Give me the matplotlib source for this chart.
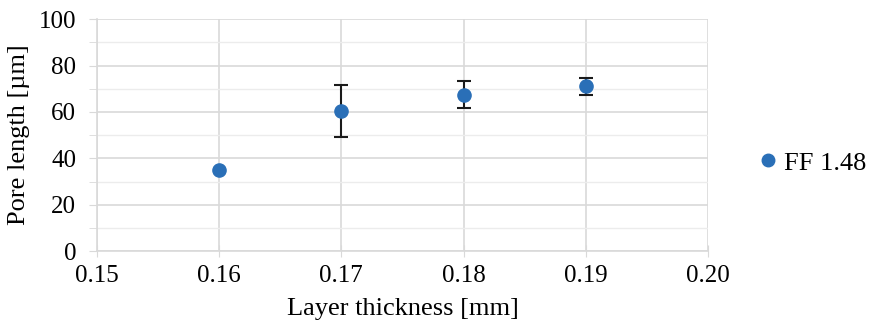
import matplotlib.pyplot as plt
from matplotlib.lines import Line2D
from matplotlib.ticker import MultipleLocator

# --- Data ---
layer_thickness = [0.16, 0.17, 0.18, 0.19]
pore_length = [35.0, 60.5, 67.5, 71.0]
err_low = [0.0, 11.3, 6.0, 3.8]
err_high = [0.0, 11.0, 5.7, 3.7]
series_label = "FF 1.48"

x_ticks = [0.15, 0.16, 0.17, 0.18, 0.19, 0.20]
y_ticks = [0, 20, 40, 60, 80, 100]

plt.rcParams["font.family"] = ["Liberation Serif", "DejaVu Serif"]

fig = plt.figure(figsize=(8.73, 3.24), dpi=100)
ax = fig.add_axes([0.111, 0.225, 0.700, 0.716])

grid_col = "#d9d9d9"
point_col = "#2a6fb7"

# error bars only where there is a spread
has_err = [lo > 0 or hi > 0 for lo, hi in zip(err_low, err_high)]
ex = [x for x, h in zip(layer_thickness, has_err) if h]
ey = [y for y, h in zip(pore_length, has_err) if h]
elo = [e for e, h in zip(err_low, has_err) if h]
ehi = [e for e, h in zip(err_high, has_err) if h]
ax.errorbar(ex, ey, yerr=[elo, ehi], fmt="none", ecolor="#1a1a1a",
            elinewidth=1.5, capsize=5, capthick=1.5, zorder=3)
ax.plot(layer_thickness, pore_length, "o", color=point_col,
        markersize=9.5, zorder=4)

ax.set_xlim(0.15, 0.20)
ax.set_ylim(0, 100)
ax.set_xticks(x_ticks)
ax.set_xticklabels([f"{v:.2f}" for v in x_ticks])
ax.set_yticks(y_ticks)
ax.yaxis.set_minor_locator(MultipleLocator(10))

ax.grid(True, which="major", color=grid_col, linewidth=1.2)
ax.grid(True, which="minor", axis="y", color="#ececec", linewidth=1.0)
ax.set_axisbelow(True)

for side in ("top", "right"):
    ax.spines[side].set_visible(False)
for side in ("left", "bottom"):
    ax.spines[side].set_color(grid_col)
    ax.spines[side].set_linewidth(1.2)

ax.tick_params(axis="y", which="both", direction="out", length=6,
               color=grid_col, labelsize=18, pad=9)
ax.tick_params(axis="x", which="major", direction="inout", length=8,
               color=grid_col, labelsize=18, pad=6)

ax.set_xlabel("Layer thickness [mm]", fontsize=19, labelpad=8)
ax.set_ylabel("Pore length [µm]", fontsize=19, labelpad=6)

handle = Line2D([], [], marker="o", linestyle="none", color=point_col,
                markersize=9)
ax.legend([handle], [series_label], loc="center left",
          bbox_to_anchor=(1.06, 0.38), frameon=False, fontsize=19,
          handletextpad=0.1, handlelength=1.0, borderaxespad=0)

fig.savefig("out.png", dpi=100)
plt.close(fig)
